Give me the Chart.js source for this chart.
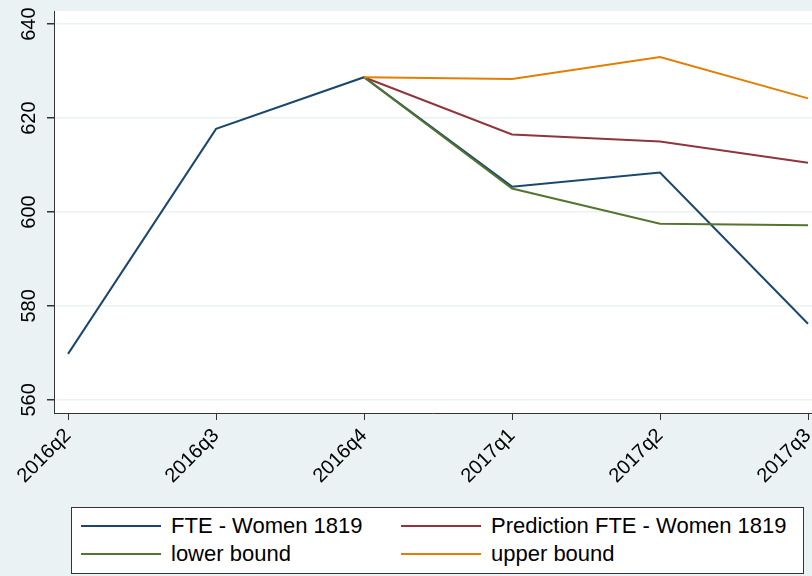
<!DOCTYPE html>
<html>
<head>
<meta charset="utf-8">
<script src="https://cdn.jsdelivr.net/npm/chart.js@4.4.1/dist/chart.umd.min.js"></script>
<style>
    html, body { margin: 0; padding: 0; background: #eaf2f3; }
    #wrap { position: relative; width: 812px; height: 576px; }
    #legend {
        position: absolute; left: 71px; top: 507px; width: 733px; height: 67px;
        background: #fff; border: 1px solid #333; box-sizing: border-box;
        font-family: 'Liberation Sans', Arial, sans-serif; font-size: 22px; color: #000;
    }
    .item { position: absolute; height: 24px; line-height: 24px; white-space: nowrap; }
    .item .ln { position: absolute; left: 0; top: 11px; width: 80px; height: 2px; }
    .item .tx { position: absolute; left: 90px; top: 0; }
</style>
</head>
<body>
<div id="wrap">
    <canvas id="chart" width="812" height="576"></canvas>
    <div id="legend"></div>
</div>
<script>
// quarters on the x axis
const quarters = ['2016q2', '2016q3', '2016q4', '2017q1', '2017q2', '2017q3'];
const yTicks = [560, 580, 600, 620, 640];

// series values (null = not plotted)
const fte        = [569.8, 617.7, 628.7, 605.4, 608.4, 576.2];
const prediction = [null,  null,  628.7, 616.5, 615.0, 610.5];
const lowerBound = [null,  null,  628.7, 605.0, 597.5, 597.2];
const upperBound = [null,  null,  628.7, 628.3, 633.0, 624.2];

const series = [
    { label: 'FTE - Women 1819', data: fte, color: '#1a476f', order: 3 },
    { label: 'Prediction FTE - Women 1819', data: prediction, color: '#90353b', order: 2 },
    { label: 'lower bound', data: lowerBound, color: '#55752f', order: 1 },
    { label: 'upper bound', data: upperBound, color: '#e37e00', order: 0 }
];

const toPoints = arr => arr.map((v, i) => v === null ? null : { x: i, y: v }).filter(p => p);

// white plot region
const plotBg = {
    id: 'plotBg',
    beforeDraw(chart) {
        const a = chart.chartArea;
        const c = chart.ctx;
        c.save();
        c.fillStyle = '#ffffff';
        c.fillRect(a.left, a.top, a.right - a.left, a.bottom - a.top);
        c.restore();
    }
};

const font = { family: "'Liberation Sans', Arial, sans-serif", size: 20 };

new Chart(document.getElementById('chart'), {
    type: 'line',
    data: {
        datasets: series.map(s => ({
            label: s.label,
            data: toPoints(s.data),
            borderColor: s.color,
            backgroundColor: s.color,
            borderWidth: 2,
            pointRadius: 0,
            tension: 0,
            order: s.order
        }))
    },
    options: {
        responsive: false,
        animation: false,
        layout: { padding: { top: 11, right: 0, bottom: 0, left: 0 } },
        plugins: { legend: { display: false }, tooltip: { enabled: false } },
        scales: {
            x: {
                type: 'linear',
                min: -0.095,
                max: 5.027,
                border: { color: '#333', width: 1 },
                grid: { drawOnChartArea: false, tickLength: 7, tickColor: '#333' },
                ticks: {
                    font: font, color: '#000', padding: 4,
                    minRotation: 45, maxRotation: 45,
                    callback: v => quarters[v]
                },
                afterBuildTicks: scale => { scale.ticks = quarters.map((q, i) => ({ value: i })); },
                afterFit: scale => {
                    scale.height = 163;
                    scale.paddingLeft = 0; scale.paddingRight = 0;
                }
            },
            y: {
                min: 557.2,
                max: 642.8,
                border: { color: '#333', width: 1 },
                grid: { color: '#eaf2f3', lineWidth: 1.5, tickLength: 7, tickColor: '#333' },
                ticks: {
                    font: font, color: '#000', padding: 1,
                    minRotation: 90, maxRotation: 90,
                    crossAlign: 'center'
                },
                afterBuildTicks: scale => { scale.ticks = yTicks.map(v => ({ value: v })); },
                afterFit: scale => {
                    scale.width = 54;
                    scale.paddingTop = 0; scale.paddingBottom = 0;
                }
            }
        }
    },
    plugins: [plotBg]
});

// legend in two columns, like the original
const legend = document.getElementById('legend');
const slots = [[9, 6], [329, 6], [9, 34], [329, 34]];
series.forEach((s, i) => {
    const el = document.createElement('div');
    el.className = 'item';
    el.style.left = slots[i][0] + 'px';
    el.style.top = slots[i][1] + 'px';
    el.innerHTML = `<span class="ln" style="background:${s.color}"></span><span class="tx">${s.label}</span>`;
    legend.appendChild(el);
});
</script>
</body>
</html>
